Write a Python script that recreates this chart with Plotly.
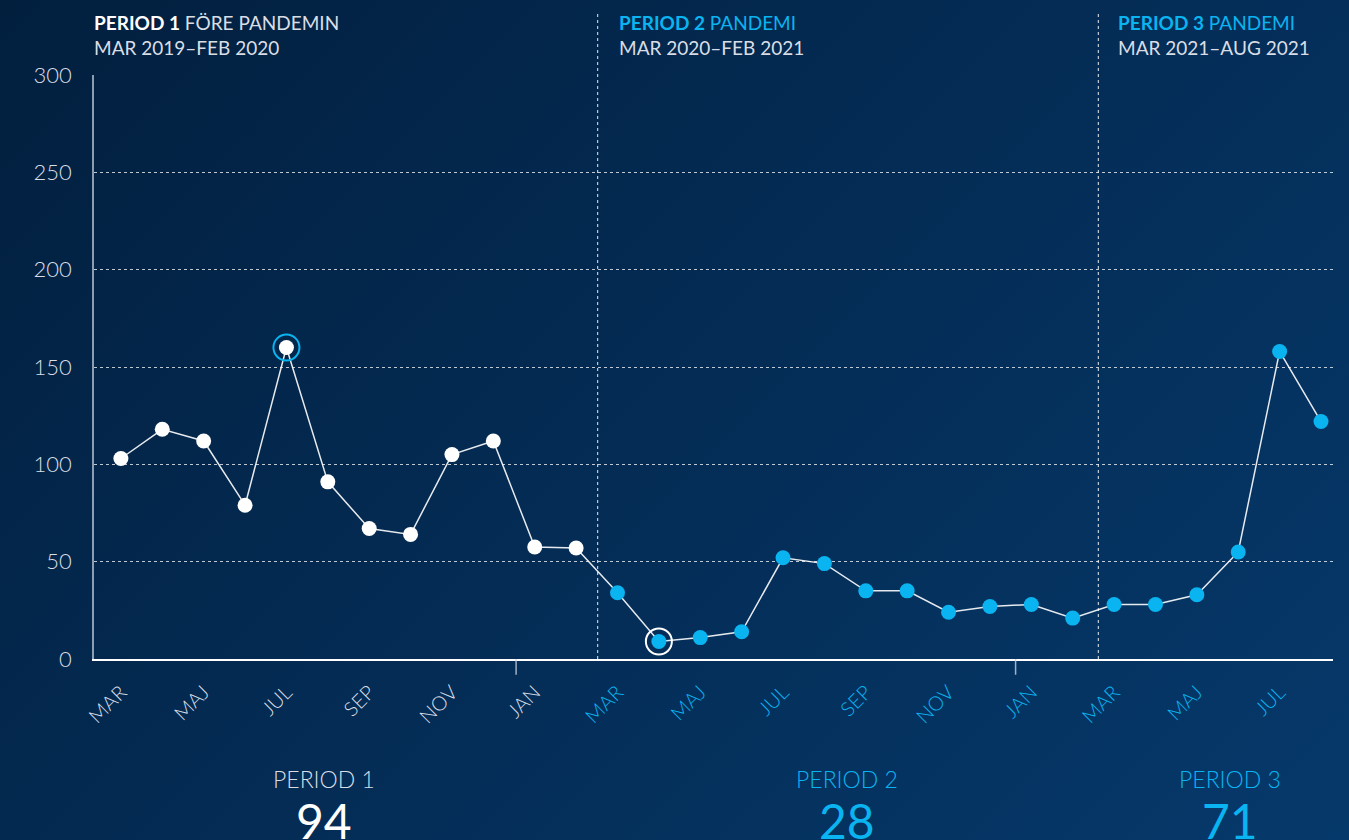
import plotly.graph_objects as go

months = ["MAR", "APR", "MAJ", "JUN", "JUL", "AUG", "SEP", "OKT", "NOV", "DEC", "JAN", "FEB",
          "MAR", "APR", "MAJ", "JUN", "JUL", "AUG", "SEP", "OKT", "NOV", "DEC", "JAN", "FEB",
          "MAR", "APR", "MAJ", "JUN", "JUL", "AUG"]
values = [103, 118, 112, 79, 160, 91, 67, 64, 105, 112, 57.5, 57,
          34, 9, 11, 14, 52, 49, 35, 35, 24, 27, 28, 21,
          28, 28, 33, 55, 158, 122]
period_of = [1] * 12 + [2] * 12 + [3] * 6
highlight_idx = [4, 13]
period_titles = ["PERIOD 1", "PERIOD 2", "PERIOD 3"]
period_subtitles = ["FÖRE PANDEMIN", "PANDEMI", "PANDEMI"]
period_ranges = ["MAR 2019–FEB 2020", "MAR 2020–FEB 2021", "MAR 2021–AUG 2021"]
period_means = [94, 28, 71]
y_ticks = [0, 50, 100, 150, 200, 250, 300]

WHITE = "#ffffff"
CYAN = "#0ab4f0"
LIGHT = "#d9dee6"
FONT = "Lato"

x = list(range(len(values)))
colors = [WHITE if p == 1 else CYAN for p in period_of]

fig = go.Figure()
fig.add_trace(go.Scatter(
    x=x, y=values, mode="lines+markers",
    line=dict(color="rgba(255,255,255,0.9)", width=1.5),
    marker=dict(size=15, color=colors, line=dict(width=0)),
    hoverinfo="x+y", showlegend=False,
))
# highlight rings
fig.add_trace(go.Scatter(
    x=[x[i] for i in highlight_idx], y=[values[i] for i in highlight_idx], mode="markers",
    marker=dict(size=26, symbol="circle-open",
                color=[CYAN if period_of[i] == 1 else WHITE for i in highlight_idx],
                line=dict(width=2)),
    hoverinfo="skip", showlegend=False,
))

tickvals = x[::2]
ticktext = []
for i in tickvals:
    c = LIGHT if period_of[i] == 1 else CYAN
    ticktext.append(f'<span style="color:{c}">{months[i]}</span>')

dividers = [11.52, 23.62]
year_marks = [9.55, 21.62]
shapes = []
for d in dividers:
    shapes.append(dict(type="line", xref="x", yref="paper", x0=d, x1=d, y0=0, y1=1.105,
                       line=dict(color="rgba(255,255,255,0.75)", width=1.2, dash="dot")))
for d in year_marks:
    shapes.append(dict(type="line", xref="x", yref="paper", x0=d, x1=d, y0=0, y1=-0.027,
                       line=dict(color="rgba(200,210,225,0.8)", width=1.5)))

annotations = []
header_x = [-0.65, 11.52, 23.62]
header_shift = [-2, 19, 18]
for k in range(3):
    tc = WHITE if k == 0 else CYAN
    sc = LIGHT if k == 0 else CYAN
    annotations.append(dict(
        x=header_x[k], y=1.0, xref="x", yref="paper", xanchor="left", yanchor="bottom",
        xshift=header_shift[k], yshift=14, showarrow=False, align="left",
        text=(f'<span style="color:{tc};font-weight:bold">{period_titles[k]}</span> '
              f'<span style="color:{sc}">{period_subtitles[k]}</span><br>'
              f'<span style="color:{LIGHT}">{period_ranges[k]}</span>'),
        font=dict(family=FONT, size=19, color=LIGHT),
    ))

bottom_x = [4.9, 17.55, 26.8]
for k in range(3):
    c = LIGHT if k == 0 else CYAN
    nc = WHITE if k == 0 else CYAN
    annotations.append(dict(
        x=bottom_x[k], y=-0.2055, xref="x", yref="paper", xanchor="center", yanchor="middle",
        showarrow=False, text=period_titles[k],
        font=dict(family=FONT, size=23, color=c, weight=300),
    ))
    annotations.append(dict(
        x=bottom_x[k], y=-0.277, xref="x", yref="paper", xanchor="center", yanchor="middle",
        showarrow=False, text=str(period_means[k]),
        font=dict(family=FONT, size=48, color=nc),
    ))

fig.update_layout(
    width=1349, height=840,
    margin=dict(l=94, r=16, t=75, b=181),
    paper_bgcolor="rgba(0,0,0,0)", plot_bgcolor="rgba(0,0,0,0)",
    font=dict(family=FONT, color=LIGHT),
    shapes=shapes, annotations=annotations,
    xaxis=dict(
        range=[-0.65, 29.29], tickvals=tickvals, ticktext=ticktext, tickangle=-45,
        showgrid=False, zeroline=False, showline=True, linecolor=WHITE, linewidth=1.5,
        ticks="", ticklabelstandoff=12, tickfont=dict(family=FONT, size=20, color=LIGHT, weight=300),
        fixedrange=True,
    ),
    yaxis=dict(
        range=[0, 300], tickvals=y_ticks, showgrid=True,
        gridcolor="rgba(255,255,255,0.75)", griddash="dot", gridwidth=1,
        zeroline=False, showline=True, linecolor="rgba(200,210,225,0.7)", linewidth=1.5,
        ticks="", ticklabelstandoff=16, tickfont=dict(family=FONT, size=22, color=LIGHT, weight=300),
        fixedrange=True,
    ),
)

post = ("document.body.style.margin='0';"
        "document.body.style.background='linear-gradient(135deg, #021f3e 0%, #042c55 50%, #06396b 100%)';"
        "document.documentElement.style.background='#042c55';"
        "document.body.style.overflow='hidden';")
fig.write_html("out.html", post_script=post, config={"displayModeBar": False})
